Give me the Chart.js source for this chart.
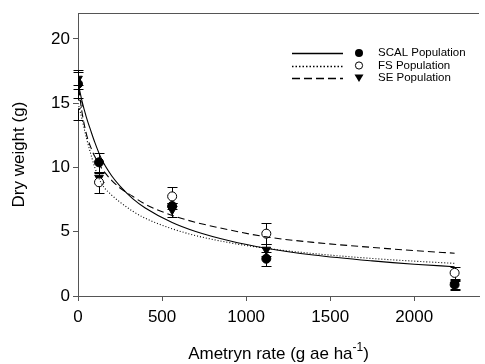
<!DOCTYPE html>
<html>
<head>
<meta charset="utf-8">
<script src="https://cdn.jsdelivr.net/npm/chart.js@4"></script>
<style>
  html, body { margin: 0; padding: 0; background: #fff; }
  #wrap { width: 485px; height: 364px; }
</style>
</head>
<body>
<div id="wrap"><canvas id="chart" width="485" height="364"></canvas></div>
<script>
// observed means and standard errors
const rates = [0, 125, 560, 1120, 2240];
const scalMean = [16.5, 10.4, 7.0, 2.9, 0.88];
const scalErr = [1.1, 0.75, 0.25, 0.55, 0.4];
const fsMean = [14.9, 8.85, 7.75, 4.85, 1.8];
const fsErr = [1.2, 0.8, 0.75, 0.8, 0.45];
const seMean = [16.9, 9.2, 6.7, 3.6, 0.85];
const seErr = [0.5, 0.35, 0.55, 0.45, 0.3];

// fitted curves
const curveX = [0, 10, 25, 50, 75, 100, 140, 200, 250, 325, 400, 560, 700, 900, 1120, 1400, 1750, 2000, 2240];
const scalFit = [16.6, 16.0, 15.1, 13.9, 12.9, 11.95, 10.65, 9.35, 8.55, 7.58, 6.85, 5.72, 5.02, 4.3, 3.72, 3.19, 2.73, 2.47, 2.28];
const fsFit = [15.0, 14.5, 13.7, 12.3, 11.1, 10.0, 8.75, 7.85, 7.3, 6.6, 6.05, 5.23, 4.7, 4.15, 3.71, 3.3, 2.92, 2.71, 2.54];
const seFit = [17.0, 15.6, 14.2, 12.6, 11.6, 10.85, 9.95, 9.0, 8.4, 7.76, 7.14, 6.27, 5.73, 5.14, 4.6, 4.17, 3.78, 3.53, 3.33];

const xTicks = [0, 500, 1000, 1500, 2000];
const yTicks = [0, 5, 10, 15, 20];

const legendNames = ['SCAL Population', 'FS Population', 'SE Population'];

const FONT = "'Liberation Sans', Arial, sans-serif";

const pts = (xs, ys) => xs.map((x, i) => ({ x: x, y: ys[i] }));

const curveStyle = {
    type: 'line',
    pointRadius: 0,
    borderColor: '#000',
    borderWidth: 1.1,
    fill: false,
    cubicInterpolationMode: 'monotone'
};

const markerStyle = {
    type: 'line',
    showLine: false,
    borderColor: '#000',
    borderWidth: 1,
    pointBorderWidth: 1,
    pointBorderColor: '#000'
};

// error bars drawn under the markers
const errorBars = {
    id: 'errorBars',
    beforeDatasetsDraw(chart) {
        const { ctx, scales: { x, y } } = chart;
        ctx.save();
        ctx.strokeStyle = '#000';
        ctx.lineWidth = 1;
        chart.data.datasets.forEach(ds => {
            if (!ds.errors) return;
            ds.data.forEach((p, i) => {
                const px = Math.round(x.getPixelForValue(p.x)) + 0.5;
                const top = Math.round(y.getPixelForValue(p.y + ds.errors[i])) + 0.5;
                const bot = Math.round(y.getPixelForValue(p.y - ds.errors[i])) + 0.5;
                ctx.beginPath();
                ctx.moveTo(px, top); ctx.lineTo(px, bot);
                ctx.moveTo(px - 5, top); ctx.lineTo(px + 5, top);
                ctx.moveTo(px - 5, bot); ctx.lineTo(px + 5, bot);
                ctx.stroke();
            });
        });
        ctx.restore();
    }
};

// top frame line, x title with superscript and the legend box
const decorations = {
    id: 'decorations',
    afterDraw(chart) {
        const { ctx, chartArea: a } = chart;
        ctx.save();
        ctx.strokeStyle = '#555';
        ctx.lineWidth = 1;
        ctx.beginPath();
        ctx.moveTo(a.left, Math.round(a.top) + 0.5);
        ctx.lineTo(a.right, Math.round(a.top) + 0.5);
        ctx.stroke();

        // x axis title
        ctx.fillStyle = '#000';
        ctx.textBaseline = 'alphabetic';
        const main = 'Ametryn rate (g ae ha';
        ctx.font = '12px ' + FONT;
        const supW = ctx.measureText('-1').width;
        ctx.font = '17px ' + FONT;
        const w = ctx.measureText(main).width + supW + ctx.measureText(')').width;
        let tx = (a.left + a.right) / 2 - w / 2;
        const ty = 359;
        ctx.fillText(main, tx, ty);
        tx += ctx.measureText(main).width;
        ctx.font = '12px ' + FONT;
        ctx.fillText('-1', tx, ty - 8);
        tx += supW;
        ctx.font = '17px ' + FONT;
        ctx.fillText(')', tx, ty);

        // legend
        const rows = [53, 65.5, 78];
        const dashes = [[], [1.5, 2], [8, 4]];
        ctx.strokeStyle = '#000';
        ctx.font = '11.5px ' + FONT;
        ctx.textBaseline = 'middle';
        rows.forEach((ry, i) => {
            ctx.lineWidth = 1.4;
            ctx.setLineDash(dashes[i]);
            ctx.beginPath();
            ctx.moveTo(292, Math.round(ry) + 0.5);
            ctx.lineTo(343, Math.round(ry) + 0.5);
            ctx.stroke();
            ctx.setLineDash([]);
            ctx.lineWidth = 1;
            ctx.beginPath();
            if (i === 0) {
                ctx.arc(359, ry, 4, 0, Math.PI * 2);
                ctx.fill();
            } else if (i === 1) {
                ctx.arc(359, ry, 3.6, 0, Math.PI * 2);
                ctx.stroke();
            } else {
                ctx.moveTo(354.5, ry - 3.5);
                ctx.lineTo(363.5, ry - 3.5);
                ctx.lineTo(359, ry + 4);
                ctx.closePath();
                ctx.fill();
            }
            ctx.fillText(legendNames[i], 378, ry);
        });
        ctx.restore();
    }
};

new Chart(document.getElementById('chart'), {
    type: 'line',
    data: {
        datasets: [
            Object.assign({ label: 'SCAL fit', data: pts(curveX, scalFit) }, curveStyle),
            Object.assign({ label: 'FS fit', data: pts(curveX, fsFit), borderDash: [1, 2] }, curveStyle),
            Object.assign({ label: 'SE fit', data: pts(curveX, seFit), borderDash: [7, 4] }, curveStyle),
            Object.assign({
                label: legendNames[0], data: pts(rates, scalMean), errors: scalErr,
                pointStyle: 'circle', pointRadius: 4.5, pointBackgroundColor: '#000'
            }, markerStyle),
            Object.assign({
                label: legendNames[1], data: pts(rates, fsMean), errors: fsErr,
                pointStyle: 'circle', pointRadius: 4.5, pointBackgroundColor: '#fff'
            }, markerStyle),
            Object.assign({
                label: legendNames[2], data: pts(rates, seMean), errors: seErr,
                pointStyle: 'triangle', pointRotation: 180, pointRadius: 5, pointBackgroundColor: '#000'
            }, markerStyle)
        ]
    },
    options: {
        responsive: false,
        animation: false,
        layout: { padding: { top: 9, right: 1, left: 0, bottom: 0 } },
        plugins: { legend: { display: false }, tooltip: { enabled: false } },
        scales: {
            x: {
                type: 'linear',
                min: 0,
                max: 2385,
                afterBuildTicks: s => { s.ticks = xTicks.map(v => ({ value: v })); },
                afterFit: s => { s.height = 68; },
                grid: { display: true, drawOnChartArea: false, drawTicks: true, tickLength: 5, color: '#555' },
                border: { color: '#555', width: 1 },
                ticks: { color: '#000', font: { size: 17, family: FONT }, padding: 6, maxRotation: 0, callback: v => String(v) }
            },
            y: {
                min: 0,
                max: 22,
                afterBuildTicks: s => { s.ticks = yTicks.map(v => ({ value: v })); },
                afterFit: s => { s.width = 78; },
                grid: { display: true, drawOnChartArea: false, drawTicks: true, tickLength: 5, color: '#555' },
                border: { color: '#555', width: 1 },
                ticks: { color: '#000', font: { size: 17, family: FONT }, padding: 3, callback: v => String(v) },
                title: { display: true, text: 'Dry weight (g)', color: '#000', font: { size: 17, family: FONT }, padding: { top: 9, bottom: 0 } }
            }
        }
    },
    plugins: [errorBars, decorations]
});
</script>
</body>
</html>
